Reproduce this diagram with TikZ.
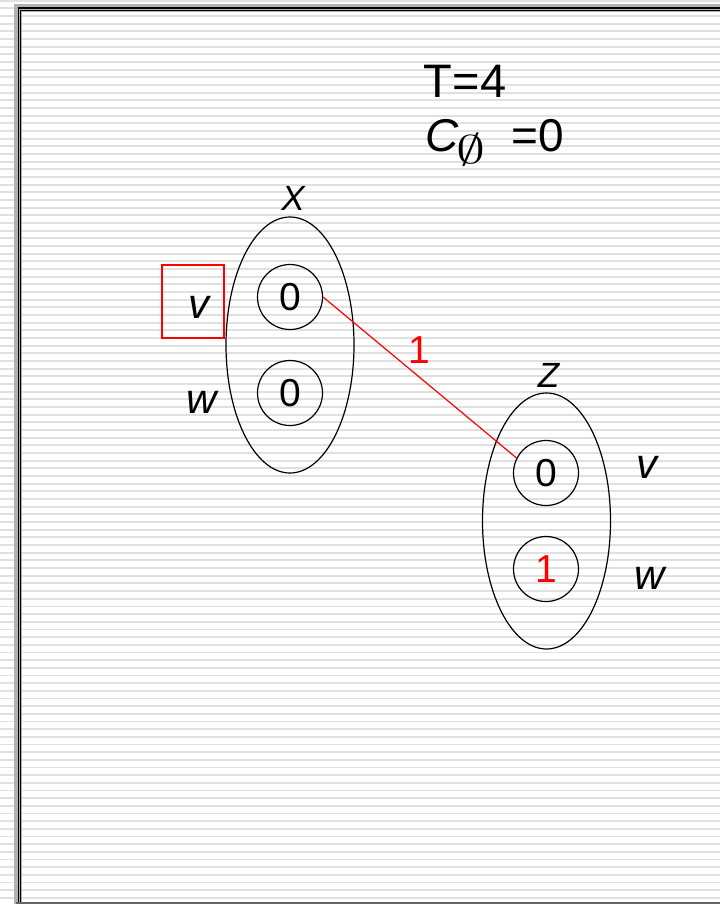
\RequirePackage{fix-cm}
\documentclass[tikz,border=0pt]{standalone}
\usepackage{fontspec}
\setmainfont{Liberation Sans}
\usetikzlibrary{shapes.geometric,positioning}

\begin{document}
\begin{tikzpicture}[
x=1pt,y=-1pt,
var/.style={draw,ellipse,line width=1.2pt,minimum width=128pt,minimum height=256pt,inner sep=0pt},
val/.style={draw,circle,line width=1.2pt,minimum size=65pt,inner sep=0pt,font=\fontsize{39}{39}\selectfont},
varname/.style={inner sep=0pt,font=\fontsize{35}{35}\selectfont\itshape},
lbl/.style={inner sep=0pt,font=\fontsize{42}{42}\selectfont\itshape},
pickbox/.style={draw=red,line width=1.2pt,minimum width=62pt,minimum height=73pt,inner sep=0pt},
stripe/.style={black!12,line width=1.8pt}
]

% slide background
\useasboundingbox (0,0) rectangle (720,904);
\fill[white] (0,0) rectangle (720,904);
\foreach \k in {0,...,117}
  \draw[stripe] (0,{0.7+\k*7.667}) -- (720,{0.7+\k*7.667});
\draw[gray!60,line width=8pt] (18,904) -- (18,8) -- (720,8);
\draw[line width=1.3pt] (18.6,904) -- (18.6,8) -- (720,8);
\draw[line width=1.3pt] (20.8,904) -- (20.8,10.8) -- (720,10.8);
\draw[black!60,line width=2.5pt] (16,903) -- (720,903);

% header
\node[inner sep=0pt,font=\fontsize{47}{47}\selectfont] (temp) at (465,81) {T=4};
\node[inner sep=0pt,anchor=base west,font=\fontsize{46}{46}\selectfont] (cost) at (425,152)
  {\textit{C}\hspace{-2pt}\raisebox{-12pt}{\fontsize{40}{40}\selectfont\scalebox{1.45}[1]{$\emptyset$}}\hspace{26pt}=0};

% variable x
\node[var] (x) at (290,345) {};
\node[val] (xv) at (290,297) {0};
\node[val] (xw) at (290,393) {0};
\node[varname,above=6pt of x,xshift=3pt] (xname) {X};
\node[lbl] (xvl) at (199,307) {v};
\node[lbl] (xwl) at (202,402) {w};
\node[pickbox] (sel) at (193,301.5) {};

% variable z
\node[var] (z) at (546.5,521) {};
\node[val] (zv) at (546,473) {0};
\node[val,text=red] (zw) at (546,569) {1};
\node[varname,above=5pt of z,xshift=2pt] (zname) {Z};
\node[lbl] (zvl) at (647,467) {v};
\node[lbl] (zwl) at (650,578) {w};

% cost edge
\draw[red,line width=1.2pt] (xv.east) -- (zv.153)
  node[midway,above=13pt,inner sep=0pt,font=\fontsize{39}{39}\selectfont] (edge) {1};

\end{tikzpicture}
\end{document}
